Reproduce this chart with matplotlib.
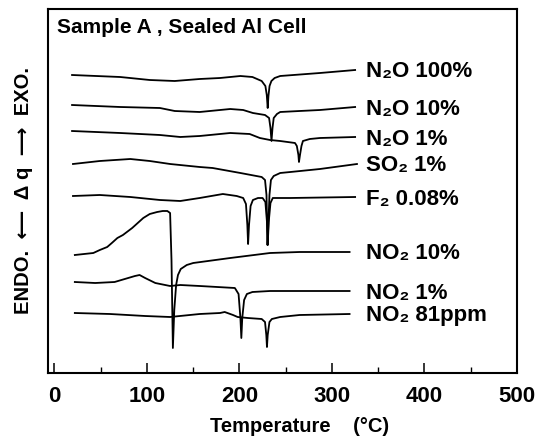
import matplotlib
matplotlib.use("Agg")
import matplotlib.pyplot as plt
from matplotlib.ticker import MultipleLocator

plt.rcParams['font.family'] = ['Liberation Sans', 'DejaVu Sans']
plt.rcParams['font.weight'] = 'bold'

# DSC traces, temperature (C) vs heat flow (arbitrary units, stacked)
t_n2o_100 = [19, 71, 103, 130, 157, 179, 201, 214, 224, 228, 229.5, 230.5, 231.3, 232.5, 234.5, 238, 244, 287, 325]
q_n2o_100 = [298, 296, 293, 292, 294, 295, 297, 296, 292, 287, 278, 265, 277, 287, 292, 295, 297, 300, 303]

t_n2o_10 = [19, 71, 114, 130, 157, 190, 204, 214.5, 227.6, 232, 233.5, 234.6, 235.7, 237, 240.5, 244, 265, 287, 325]
q_n2o_10 = [268, 266, 265, 262, 261, 264, 263, 260, 258, 255, 245, 232, 245, 255, 259, 261, 262, 263, 266]

t_n2o_1 = [19, 71, 114, 136, 157, 190, 211, 222, 233, 244, 260, 262, 263.7, 264.3, 265.4, 267, 268.6, 276, 287, 325]
q_n2o_1 = [242, 240, 238, 236, 237, 240, 239, 235, 233, 232, 230, 227, 218, 211, 218, 227, 232, 234, 235, 236]

t_so2 = [20, 49, 82, 103, 125, 157, 171, 201, 224, 227.6, 229.2, 230.3, 231.4, 232.4, 234, 237, 244, 255, 287, 327]
q_so2 = [209, 212, 214, 212, 209, 206, 205, 200, 196, 193, 178, 128, 153, 178, 193, 197, 200, 201, 204, 209]

t_f2 = [20, 49, 82, 114, 136, 157, 182, 197, 204, 207, 208.5, 209.3, 210.3, 212, 214.5, 220, 225, 228,
        229.7, 230.5, 231.6, 233.5, 236, 255, 325]
q_f2 = [177, 178, 176, 173, 172, 175, 179, 177, 175, 169, 148, 129, 148, 167, 173, 175, 175, 171,
        151, 128, 151, 170, 175, 175, 176]

t_no2_10 = [22, 42, 49, 57, 62, 68, 74, 84, 96, 103, 111, 117, 122, 125, 126.5, 128, 129.5, 131.5, 133.5,
            136.5, 143, 150, 190, 233, 265, 319]
q_no2_10 = [118, 120, 123, 126, 130, 135, 138, 145, 155, 159, 161, 162, 162, 160, 113, 25, 63, 88, 98,
            104, 108, 110, 115, 120, 121, 121]

t_no2_1 = [22, 44, 65, 76, 87, 92, 98, 109, 125, 136, 157, 195, 199, 201, 202, 203, 205, 208, 214, 233, 319]
q_no2_1 = [91, 90, 91, 94, 97, 98, 95, 90, 87, 88, 87, 85, 79, 55, 35, 55, 73, 79, 81, 82, 82]

t_no2_81 = [22, 60, 98, 125, 157, 179, 184, 193, 198, 209, 224, 227.6, 229, 229.7, 230.5, 232.4, 235, 244, 265, 319]
q_no2_81 = [60, 59, 57, 56, 59, 60, 61, 58, 56, 55, 54, 51, 38, 26, 38, 51, 54, 56, 58, 59]

labels = ["N₂O 100%", "N₂O 10%", "N₂O 1%", "SO₂ 1%", "F₂ 0.08%",
          "NO₂ 10%", "NO₂ 1%", "NO₂ 81ppm"]
curves = [(t_n2o_100, q_n2o_100), (t_n2o_10, q_n2o_10), (t_n2o_1, q_n2o_1), (t_so2, q_so2),
          (t_f2, q_f2), (t_no2_10, q_no2_10), (t_no2_1, q_no2_1), (t_no2_81, q_no2_81)]

fig = plt.figure(figsize=(5.36, 4.41), dpi=100)
ax = fig.add_axes([48/536, 1 - 373/441, 469/536, 364/441])

for (t, q), lab in zip(curves, labels):
    ax.plot(t, q, color='black', lw=1.3, solid_joinstyle='round')
    ax.text(337, q[-1] - 2, lab, fontsize=16, fontweight='bold', ha='left', va='center')

ax.set_xlim(-7, 500)
ax.set_ylim(0, 364)
ax.set_yticks([])
ax.xaxis.set_major_locator(MultipleLocator(100))
ax.xaxis.set_minor_locator(MultipleLocator(50))
ax.tick_params(axis='x', which='major', direction='in', length=7, width=1.1, pad=9, labelsize=16)
ax.tick_params(axis='x', which='minor', direction='in', length=4, width=1.0)
for s in ax.spines.values():
    s.set_linewidth(1.5)

ax.text(0.019, 0.95, "Sample A , Sealed Al Cell", transform=ax.transAxes,
        fontsize=15, fontweight='bold', ha='left', va='center')

ax.set_xlabel("Temperature    (°C)", fontsize=14.5, fontweight='bold')
ax.xaxis.set_label_coords(0.537, -0.122)
ax.set_ylabel("ENDO.  ⟵  Δ q  ⟶  EXO.", fontsize=14.5, fontweight='bold')
ax.yaxis.set_label_coords(-0.032, 0.5)

fig.savefig("out.png", dpi=100)
